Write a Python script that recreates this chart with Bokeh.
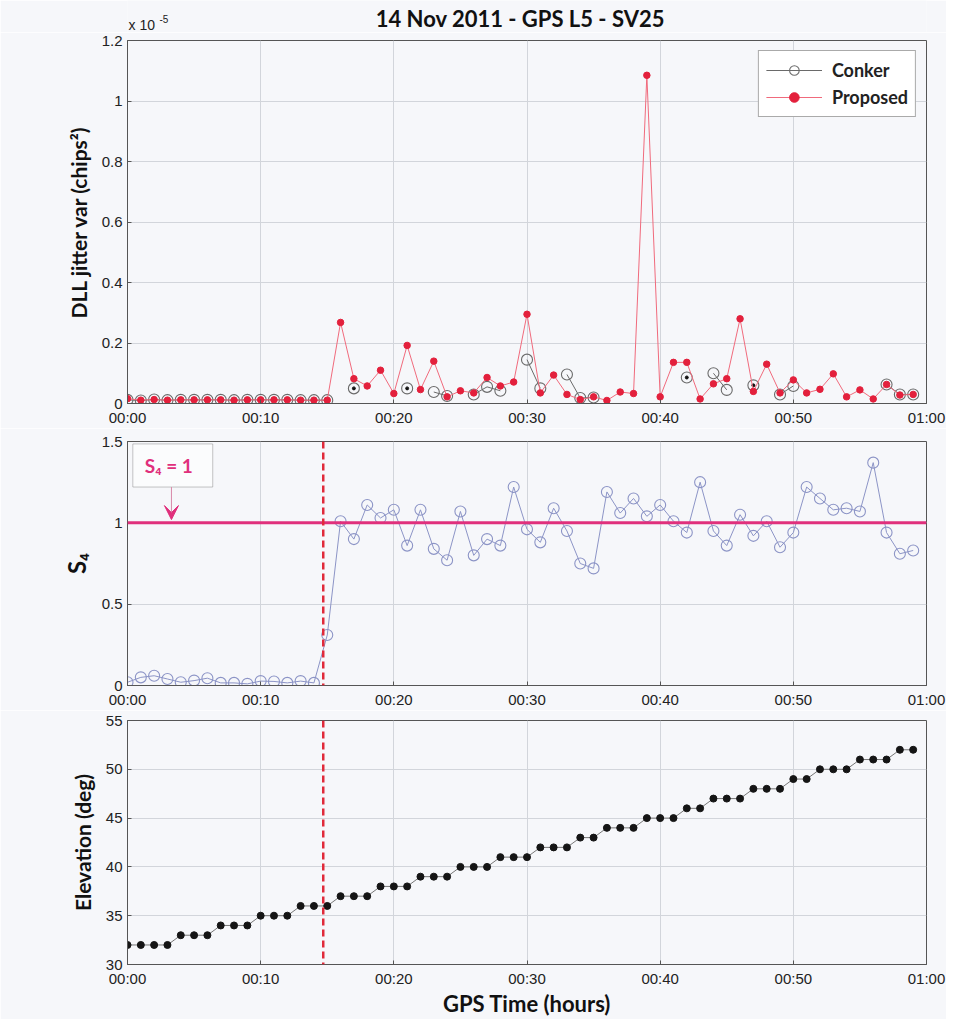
import math
from bokeh.plotting import figure
from bokeh.layouts import column
from bokeh.models import (FixedTicker, Span, Label, Legend, LegendItem, BoxAnnotation,
                          Arrow, VeeHead, ColumnDataSource, Range1d, NumeralTickFormatter)
from bokeh.embed import file_html
from bokeh.resources import INLINE

NaN = float("nan")

# ---------------- data ----------------
minutes = list(range(60))
x_ticks = [0, 10, 20, 30, 40, 50, 60]
x_tick_labels = ["00:00", "00:10", "00:20", "00:30", "00:40", "00:50", "01:00"]

# DLL jitter variance, in units of 1e-5 chips^2
dll_proposed = [0.016, 0.011, 0.013, 0.011, 0.012, 0.012, 0.012, 0.012, 0.011, 0.012,
                0.012, 0.012, 0.012, 0.011, 0.011, 0.011, 0.268, 0.082, 0.058, 0.110,
                0.033, 0.192, 0.046, 0.140, 0.022, 0.042, 0.035, 0.086, 0.058, 0.071,
                0.295, 0.035, 0.094, 0.030, 0.013, 0.022, 0.010, 0.038, 0.033, 1.085,
                0.022, 0.136, 0.136, 0.015, 0.065, 0.082, 0.280, 0.040, 0.130, 0.035,
                0.078, 0.035, 0.047, 0.098, 0.022, 0.045, 0.015, 0.063, 0.028, 0.030]
dll_conker = [0.012, 0.010, 0.013, 0.011, 0.012, 0.012, 0.012, 0.012, 0.011, 0.012,
              0.012, 0.012, 0.012, 0.011, 0.011, 0.011, NaN, 0.050, NaN, NaN,
              NaN, 0.050, NaN, 0.038, 0.025, NaN, 0.030, 0.055, 0.042, NaN,
              0.145, 0.050, NaN, 0.096, 0.018, 0.020, NaN, NaN, NaN, NaN,
              NaN, NaN, 0.086, NaN, 0.100, 0.045, NaN, 0.060, NaN, 0.030,
              0.058, NaN, NaN, NaN, NaN, NaN, NaN, 0.063, 0.030, 0.030]
s4 = [0.02, 0.05, 0.06, 0.04, 0.02, 0.03, 0.045, 0.016, 0.016, 0.01,
      0.027, 0.025, 0.016, 0.027, 0.016, 0.31, 1.01, 0.90, 1.11, 1.03,
      1.08, 0.86, 1.08, 0.84, 0.77, 1.07, 0.80, 0.90, 0.86, 1.22,
      0.96, 0.88, 1.09, 0.95, 0.75, 0.72, 1.19, 1.06, 1.15, 1.04,
      1.11, 1.01, 0.94, 1.25, 0.95, 0.86, 1.05, 0.92, 1.01, 0.85,
      0.94, 1.22, 1.15, 1.08, 1.09, 1.07, 1.37, 0.94, 0.81, 0.83]
elevation = [32, 32, 32, 32, 33, 33, 33, 34, 34, 34,
             35, 35, 35, 36, 36, 36, 37, 37, 37, 38,
             38, 38, 39, 39, 39, 40, 40, 40, 41, 41,
             41, 42, 42, 42, 43, 43, 44, 44, 44, 45,
             45, 45, 46, 46, 47, 47, 47, 48, 48, 48,
             49, 49, 50, 50, 50, 51, 51, 51, 52, 52]
onset_time = 14.7      # minutes, scintillation onset
s4_threshold = 1.0
title_text = "14 Nov 2011 - GPS L5 - SV25"

# ---------------- style ----------------
BG = "#f6f7fa"
GRID = "#d2d5db"
TICK_FONT = "Liberation Sans"
LABEL_FONT = "Lato"
RED_LINE = "#f06a7c"
RED_DOT = "#e3203c"
GRAY = "#6a6a6a"
BLUE = "#8c94c6"
PINK = "#e0307c"

FW = 799
LEFT = 127
RIGHT = 20
HEADER_H = 32


def make_fig(frame_h, top, bottom, y0, y1, yticks, ylabel):
    p = figure(frame_width=FW, frame_height=frame_h, min_border_left=LEFT,
               min_border_right=RIGHT, min_border_top=top, min_border_bottom=bottom,
               x_range=Range1d(0, 60), y_range=Range1d(y0, y1),
               output_backend="svg", toolbar_location=None)
    p.background_fill_color = BG
    p.border_fill_color = BG
    p.outline_line_color = "#555555"
    p.xaxis.ticker = FixedTicker(ticks=x_ticks)
    p.xaxis.major_label_overrides = dict(zip(x_ticks, x_tick_labels))
    p.yaxis.ticker = FixedTicker(ticks=yticks)
    p.yaxis.formatter = NumeralTickFormatter(format="0.[0]")
    for ax in (p.xaxis[0], p.yaxis[0]):
        ax.major_tick_in = 4
        ax.major_tick_out = 0
        ax.minor_tick_line_color = None
        ax.axis_line_color = "#555555"
        ax.major_tick_line_color = "#555555"
        ax.major_label_text_font = TICK_FONT
        ax.major_label_text_font_size = "15px"
        ax.major_label_text_color = "#222222"
        ax.major_label_standoff = 5
        ax.axis_label_text_font = LABEL_FONT
        ax.axis_label_text_font_style = "bold"
        ax.axis_label_text_font_size = "21px"
        ax.axis_label_text_color = "#111111"
        ax.axis_label_standoff = 8
    p.yaxis.axis_label = ylabel
    p.grid.grid_line_color = GRID
    p.grid.grid_line_width = 1
    return p


# ---------------- header (title + exponent), frame aligned with plots ----------------
hdr = figure(frame_width=FW, height=HEADER_H, min_border_left=LEFT, min_border_right=RIGHT,
             min_border_top=0, min_border_bottom=0,
             x_range=Range1d(0, 60), y_range=Range1d(0, HEADER_H),
             x_axis_type=None, y_axis_type=None,
             output_backend="svg", toolbar_location=None)
hdr.background_fill_color = BG
hdr.border_fill_color = BG
hdr.outline_line_color = None
hdr.grid.visible = False
hdr.add_layout(Label(x=29.5, y=14, text=title_text, text_font=LABEL_FONT,
                     text_font_style="bold", text_font_size="22px", text_color="#111111",
                     text_align="center", text_baseline="middle"))
hdr.add_layout(Label(x=0, y=0, text="x 10", x_offset=1, text_font=TICK_FONT,
                     text_font_size="14px", text_color="#222222", text_baseline="bottom"))
hdr.add_layout(Label(x=0, y=10, text="-5", x_offset=32, text_font=TICK_FONT,
                     text_font_size="10px", text_color="#222222", text_baseline="bottom"))

# ---------------- top: DLL jitter ----------------
p1 = make_fig(363, 8, 25, 0, 1.2, [0, 0.2, 0.4, 0.6, 0.8, 1.0, 1.2],
              "DLL jitter var (chips²)")

src1 = ColumnDataSource(dict(t=minutes, prop=dll_proposed, conk=dll_conker))
c_line = p1.line("t", "conk", source=src1, line_color=GRAY, line_width=1)
c_pts = p1.scatter("t", "conk", source=src1, marker="circle", size=11,
                   fill_color=None, line_color=GRAY, line_width=1.1)
# isolated Conker samples (no neighbours) show a centre dot
iso_t, iso_v = [], []
for i, v in enumerate(dll_conker):
    if math.isnan(v):
        continue
    left_nan = i == 0 or math.isnan(dll_conker[i - 1])
    right_nan = i == len(dll_conker) - 1 or math.isnan(dll_conker[i + 1])
    if left_nan and right_nan:
        iso_t.append(minutes[i])
        iso_v.append(v)
p1.scatter(iso_t, iso_v, marker="circle", size=3, color="#111111")
r_line = p1.line("t", "prop", source=src1, line_color=RED_LINE, line_width=1)
r_pts = p1.scatter("t", "prop", source=src1, marker="circle", size=6.5,
                   fill_color=RED_DOT, line_color=RED_DOT)

legend = Legend(items=[LegendItem(label="Conker", renderers=[c_line, c_pts]),
                       LegendItem(label="Proposed", renderers=[r_line, r_pts])],
                location="top_right")
legend.label_text_font = LABEL_FONT
legend.label_text_font_style = "bold"
legend.label_text_font_size = "18px"
legend.label_text_color = "#222222"
legend.glyph_width = 56
legend.glyph_height = 24
legend.label_height = 24
legend.label_standoff = 10
legend.spacing = 3
legend.padding = 7
legend.margin = 10
legend.border_line_color = "#555555"
legend.background_fill_color = "#ffffff"
legend.background_fill_alpha = 1
p1.add_layout(legend)

# ---------------- middle: S4 ----------------
p2 = make_fig(244, 13, 20, 0, 1.5, [0, 0.5, 1.0, 1.5], "S₄")
p2.yaxis.axis_label_text_font_size = "24px"
src2 = ColumnDataSource(dict(t=minutes, s4=s4))
p2.line("t", "s4", source=src2, line_color=BLUE, line_width=1)
p2.scatter("t", "s4", source=src2, marker="circle", size=11, fill_color=None,
           line_color=BLUE, line_width=1.1)
p2.add_layout(Span(location=s4_threshold, dimension="width", line_color=PINK, line_width=3))
p2.add_layout(Span(location=onset_time, dimension="height", line_color="#e02a3a",
                   line_width=2.5, line_dash="7 4"))
p2.add_layout(BoxAnnotation(left=0.4, right=6.4, bottom=1.22, top=1.485,
                            fill_color="#ffffff", fill_alpha=0.6,
                            line_color="#444444", line_width=1))
p2.add_layout(Label(x=1.3, y=1.35, text="S₄ = 1", text_font=LABEL_FONT,
                    text_font_style="bold", text_font_size="19px", text_color=PINK,
                    text_baseline="middle"))
p2.add_layout(Arrow(x_start=3.3, y_start=1.22, x_end=3.3, y_end=1.02,
                    line_color="#d888a8", line_width=1,
                    end=VeeHead(size=14, fill_color=PINK, line_color=PINK)))

# ---------------- bottom: elevation ----------------
p3 = make_fig(244, 10, 48, 30, 55, [30, 35, 40, 45, 50, 55], "Elevation (deg)")
p3.xaxis.axis_label = "GPS Time (hours)"
p3.xaxis.axis_label_text_font_size = "22px"
p3.xaxis.axis_label_standoff = 0
src3 = ColumnDataSource(dict(t=minutes, el=elevation))
p3.line("t", "el", source=src3, line_color="#777777", line_width=1)
p3.scatter("t", "el", source=src3, marker="circle", size=7, fill_color="#151515",
           line_color="#151515")
p3.add_layout(Span(location=onset_time, dimension="height", line_color="#e02a3a",
                   line_width=2.5, line_dash="7 4"))

layout = column(hdr, p1, p2, p3, spacing=0)
open("out.html", "w").write(file_html(layout, INLINE))
